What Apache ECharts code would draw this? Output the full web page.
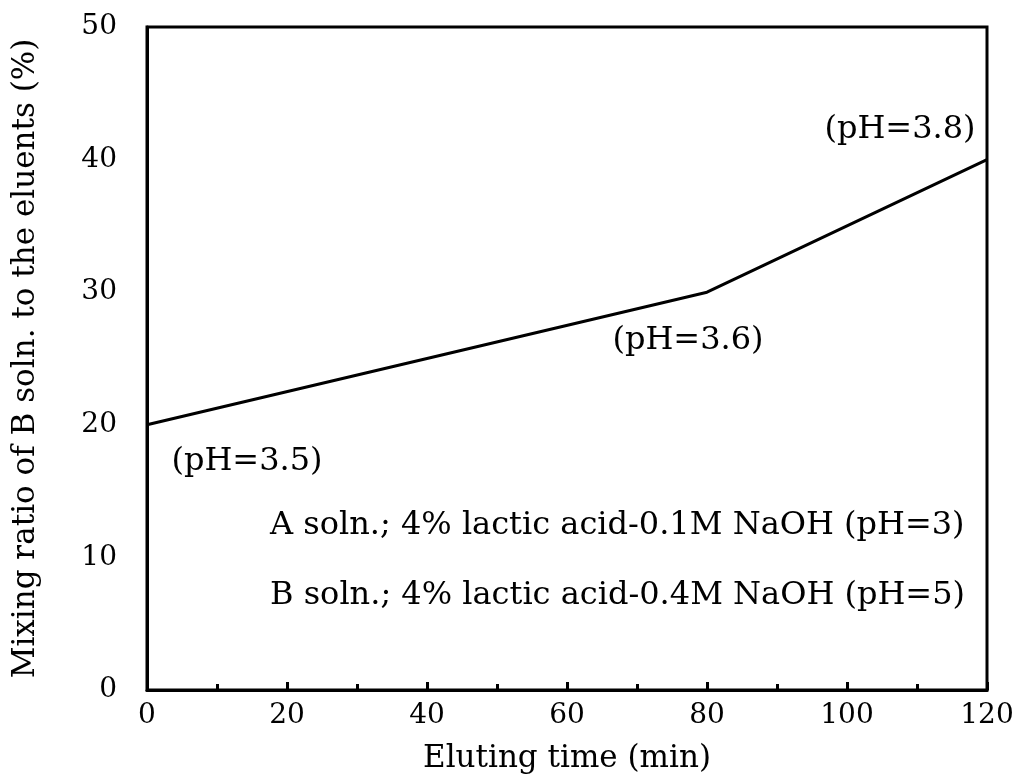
<!DOCTYPE html>
<html><head><meta charset="utf-8">
<script src="https://cdn.jsdelivr.net/npm/echarts@6/dist/echarts.min.js"></script>
<style>html,body{margin:0;padding:0;background:#fff}#c{width:1023px;height:782px}</style>
</head><body><div id="c"></div>
<script>
const times = [0, 80, 120];
const ratios = [20, 30, 40];
const phLabels = ['(pH=3.5)', '(pH=3.6)', '(pH=3.8)'];
const xTicks = [0, 20, 40, 60, 80, 100, 120];
const yTicks = [0, 10, 20, 30, 40, 50];
const notes = ['A soln.; 4% lactic acid-0.1M NaOH (pH=3)', 'B soln.; 4% lactic acid-0.4M NaOH (pH=5)'];
const FONT = 'DejaVu Serif';

const labelOffsets = [[100, 37], [-19, 48], [-87, -30]];

const chart = echarts.init(document.getElementById('c'));
chart.setOption({
  animation: false,
  backgroundColor: '#fff',
  grid: {left: 147, right: 36, top: 27, bottom: 92, show: true, borderColor: '#000', borderWidth: 3},
  xAxis: {
    type: 'value', min: 0, max: 120, interval: 20,
    axisLine: {show: true, lineStyle: {color: '#000', width: 3}},
    axisTick: {show: true, inside: true, length: 8, lineStyle: {color: '#000', width: 3}},
    minorTick: {show: true, splitNumber: 2, length: 6, lineStyle: {color: '#000', width: 3}},
    splitLine: {show: false},
    axisLabel: {color: '#000', fontFamily: FONT, fontSize: 28, margin: 12,
      formatter: v => xTicks.includes(v) ? String(v) : ''},
    name: 'Eluting time (min)', nameLocation: 'middle', nameGap: 53,
    nameTextStyle: {color: '#000', fontFamily: FONT, fontSize: 31}
  },
  yAxis: {
    type: 'value', min: 0, max: 50, interval: 10,
    axisLine: {show: true, lineStyle: {color: '#000', width: 3}},
    axisTick: {show: false},
    splitLine: {show: false},
    axisLabel: {color: '#000', fontFamily: FONT, fontSize: 28, margin: 30,
      formatter: v => yTicks.includes(v) ? String(v) : ''},
    name: 'Mixing ratio of B soln. to the eluents (%)', nameLocation: 'middle', nameGap: 106,
    nameTextStyle: {color: '#000', fontFamily: FONT, fontSize: 31}
  },
  series: [{
    type: 'line',
    data: times.map((t, i) => [t, ratios[i]]),
    symbol: 'none',
    lineStyle: {color: '#000', width: 3},
    z: 3
  }, {
    type: 'scatter',
    symbolSize: 0,
    silent: true,
    itemStyle: {opacity: 1, color: '#000'},
    data: times.map((t, i) => ({
      value: [t, ratios[i]],
      label: {show: true, formatter: phLabels[i], position: 'inside', offset: labelOffsets[i],
        color: '#000', opacity: 1, fontFamily: FONT, fontSize: 32, align: 'center', verticalAlign: 'middle'}
    })),
    z: 4
  }],
  graphic: notes.map((n, i) => ({
    type: 'text', x: 270, y: 526 + i * 70,
    style: {text: n, fill: '#000', font: '32px "DejaVu Serif"', verticalAlign: 'middle'}
  }))
});
</script></body></html>
